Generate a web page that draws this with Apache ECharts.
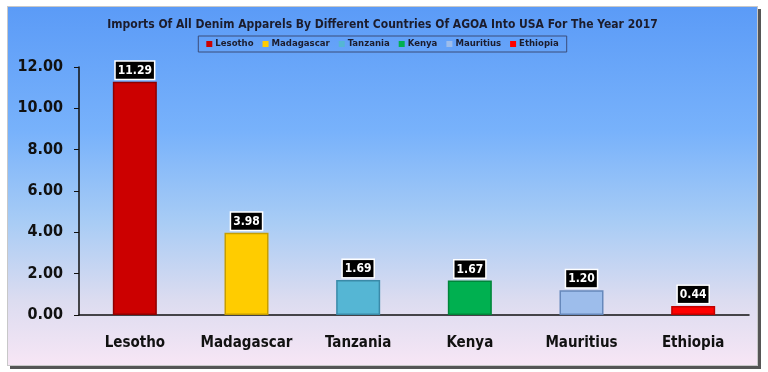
<!DOCTYPE html>
<html><head><meta charset="utf-8">
<script src="https://cdn.jsdelivr.net/npm/echarts@6/dist/echarts.min.js"></script>
<style>
html,body{margin:0;padding:0;background:#fff;}
#wrap{position:relative;width:768px;height:372px;background:#fff;}
#frame{position:absolute;left:7px;top:6px;width:749px;height:358px;border:1px solid #c8c8c8;box-shadow:3px 3px 0 #555;
background:linear-gradient(to bottom,#5b9bf7 0%,#78b2fb 35%,#a8ccf5 60%,#dcdcf0 82%,#f7e6f5 100%);}
#chart{position:absolute;left:0;top:0;width:749px;height:358px;}
</style></head>
<body><div id="wrap"><div id="frame"><div id="chart"></div></div></div>
<script>
const titleText = 'Imports Of All Denim Apparels By Different Countries Of AGOA Into USA For The Year 2017';
const categories = ['Lesotho','Madagascar','Tanzania','Kenya','Mauritius','Ethiopia'];
const values = [11.29, 3.98, 1.69, 1.67, 1.20, 0.44];
const yTicks = [0, 2, 4, 6, 8, 10, 12];
const fills = ['#cc0000','#ffcc00','#55b6d4','#00b050','#9dbdeb','#ff0000'];
const borders = ['#8e0000','#c79e00','#3a8aa8','#00853a','#6688bb','#c00000'];

const font = '"DejaVu Sans Condensed","Liberation Sans",sans-serif';
const series = categories.map((name, i) => ({
  name: name,
  type: 'bar',
  barWidth: 44,
  barGap: '-100%',
  data: categories.map((c, j) => j === i ? values[i] : null),
  itemStyle: { color: fills[i], borderColor: borders[i], borderWidth: 1.5 },
  label: {
    show: true, position: 'top', distance: 3,
    formatter: p => p.value.toFixed(2),
    color: '#fff', fontWeight: 'bold', fontSize: 12, fontFamily: font,
    backgroundColor: '#000', borderColor: '#fff', borderWidth: 1.5,
    padding: [3, 2, 2, 2]
  }
}));

const chart = echarts.init(document.getElementById('chart'), null, {renderer: 'canvas'});
chart.setOption({
  animation: false,
  title: {
    text: titleText, left: 'center', top: 7,
    textStyle: { fontSize: 12, fontWeight: 'bold', color: '#1c1c2c', fontFamily: font }
  },
  legend: {
    top: 29, left: 'center',
    data: categories,
    itemWidth: 6, itemHeight: 6, itemGap: 9,
    icon: 'rect',
    itemStyle: { borderWidth: 0 },
    borderColor: '#3b4d7a', borderWidth: 1, padding: [3, 8, 3, 8],
    textStyle: { fontSize: 9.5, fontWeight: 'bold', color: '#1c1c2c', fontFamily: font, padding: [0,0,0,-2] }
  },
  grid: { left: 71, right: 8, top: 60, bottom: 50 },
  xAxis: {
    type: 'category', data: categories,
    axisLine: { lineStyle: { color: '#111', width: 1.5 } },
    axisTick: { show: false },
    axisLabel: { interval: 0, color: '#111', fontWeight: 'bold', fontSize: 15, fontFamily: font, margin: 21 }
  },
  yAxis: {
    type: 'value', min: yTicks[0], max: yTicks[yTicks.length-1], interval: 2,
    axisLine: { show: true, lineStyle: { color: '#111', width: 1.5 } },
    axisTick: { show: true, length: 5, lineStyle: { color: '#111' } },
    splitLine: { show: false },
    axisLabel: { color: '#111', fontWeight: 'bold', fontSize: 16, fontFamily: font, margin: 16,
      formatter: v => v.toFixed(2) }
  },
  series: series
});
</script></body></html>
